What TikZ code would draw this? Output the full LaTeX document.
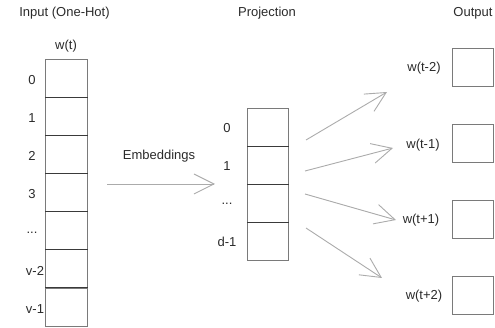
\documentclass[tikz,border=0pt]{standalone}
\usepackage{fontspec}
\setmainfont{Liberation Sans}
\usetikzlibrary{arrows.meta}
\definecolor{boxc}{HTML}{7A7A7A}
\definecolor{divc}{HTML}{3A3A3A}
\definecolor{arrc}{HTML}{ABABAB}
\definecolor{txtc}{HTML}{2A2A2A}
\begin{document}
\begin{tikzpicture}[x=1pt,y=-1pt,
  lbl/.style={inner sep=0pt,text=txtc,font=\fontsize{13}{15}\selectfont},
  cellbox/.style={draw=boxc,line width=0.9pt,minimum width=42pt,minimum height=38pt,inner sep=0pt,anchor=north west},
  divline/.style={draw=divc,line width=0.8pt},
  conn/.style={draw=arrc,line width=0.9pt,-{Straight Barb[length=20pt,width=20pt,line width=0.9pt]}}]
\useasboundingbox (0,0) rectangle (495,328);
% headings
\node[lbl] (hin) at (64.5,13) {Input (One-Hot)};
\node[lbl] (hproj) at (267,13) {Projection};
\node[lbl] (hout) at (473,13) {Output};
\node[lbl] (wt) at (66,46) {w(t)};
% input column
\foreach \i/\t/\lx in {0/0/32,1/1/32,2/2/32,3/3/32,4/{...}/32,5/v-2/35,6/v-1/35}{
  \node[cellbox] (in\i) at (45,{59+38.1*\i}) {};
  \node[lbl] (inl\i) at (\lx,{81+38.1*\i-1}) {\t};
}
\foreach \i in {1,...,6}{\draw[divline] (in\i.north west) -- (in\i.north east);}
% projection column
\foreach \i/\t in {0/0,1/1,2/{...},3/d-1}{
  \node[cellbox,minimum width=41pt] (pr\i) at (247,{108+38*\i}) {};
  \node[lbl] (prl\i) at (227,{129+38*\i-1}) {\t};
}
\foreach \i in {1,2,3}{\draw[divline] (pr\i.north west) -- (pr\i.north east);}
% embeddings arrow
\node[lbl] (emb) at (159,156) {Embeddings};
\coordinate (ea) at (107,184);
\coordinate (eb) at (215,184);
\draw[conn] (ea) -- (eb);
% outputs
\node[cellbox,minimum width=41pt] (o1) at (452,48) {};
\node[cellbox,minimum width=41pt] (o2) at (452,124) {};
\node[cellbox,minimum width=41pt] (o3) at (452,200) {};
\node[cellbox,minimum width=41pt] (o4) at (452,276) {};
\node[lbl] (ol1) at (424,68) {w(t-2)};
\node[lbl] (ol2) at (423,145) {w(t-1)};
\node[lbl] (ol3) at (421,220) {w(t+1)};
\node[lbl] (ol4) at (424,296) {w(t+2)};
% projection -> output arrows
\coordinate (s1) at (306,140); \coordinate (e1) at (387,92);
\coordinate (s2) at (305,171); \coordinate (e2) at (393,148);
\coordinate (s3) at (305,194); \coordinate (e3) at (396,220);
\coordinate (s4) at (306,228); \coordinate (e4) at (382,278);
\foreach \k in {1,2,3,4}{\draw[conn] (s\k) -- (e\k);}
\end{tikzpicture}
\end{document}
